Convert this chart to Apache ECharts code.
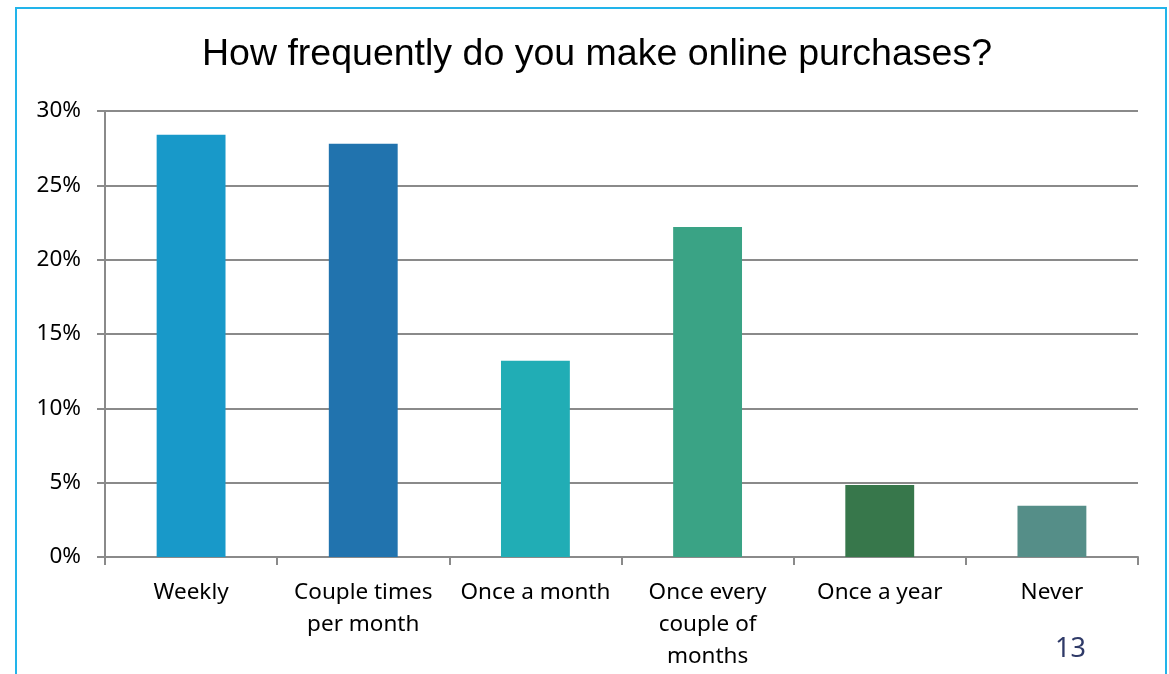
<!DOCTYPE html>
<html>
<head>
<meta charset="utf-8">
<script src="https://cdn.jsdelivr.net/npm/echarts@6/dist/echarts.min.js"></script>
<style>
html,body{margin:0;padding:0;background:#fff;}
#chart{width:1169px;height:674px;}
</style>
</head>
<body>
<div id="chart"></div>
<script>
const titleText = "How frequently do you make online purchases?";
const categories = ["Weekly", "Couple times\nper month", "Once a month", "Once every\ncouple of\nmonths", "Once a year", "Never"];
const values = [28.4, 27.8, 13.2, 22.2, 4.85, 3.45];
const barColors = ["#1899C9", "#2173AE", "#21ADB5", "#3AA385", "#37774B", "#558E88"];
const yTicks = [0, 5, 10, 15, 20, 25, 30];
const pageNumber = "13";

const chart = echarts.init(document.getElementById('chart'), null, {renderer: 'canvas'});
const axisGray = '#8A8A8A';
const labelFont = '"Noto Sans", sans-serif';
chart.setOption({
  animation: false,
  backgroundColor: '#fff',
  title: {
    text: titleText,
    left: 197,
    top: 31,
    textStyle: {fontFamily: '"Liberation Sans", Arial, sans-serif', fontSize: 37.5, fontWeight: 'normal', color: '#000'}
  },
  grid: {left: 105, right: 31, top: 111, bottom: 117},
  xAxis: {
    type: 'category',
    data: categories,
    axisLine: {lineStyle: {color: axisGray, width: 2}},
    axisTick: {show: true, length: 8, lineStyle: {color: axisGray, width: 2}},
    axisLabel: {margin: 20, fontFamily: labelFont, fontSize: 22.5, color: '#000', lineHeight: 32, interval: 0}
  },
  yAxis: {
    type: 'value',
    min: yTicks[0],
    max: yTicks[yTicks.length - 1],
    interval: yTicks[1] - yTicks[0],
    axisLine: {show: true, lineStyle: {color: axisGray, width: 2}},
    axisTick: {show: true, length: 8, lineStyle: {color: axisGray, width: 2}},
    splitLine: {lineStyle: {color: axisGray, width: 2}},
    axisLabel: {formatter: '{value}%', margin: 24, fontFamily: labelFont, fontSize: 22.5, color: '#000'}
  },
  series: [{
    type: 'bar',
    barWidth: '40%',
    data: values.map((v, i) => ({value: v, itemStyle: {color: barColors[i]}}))
  }],
  graphic: [
    {type: 'rect', shape: {x: 16, y: 8, width: 1150, height: 720}, style: {fill: 'none', stroke: '#22B4EA', lineWidth: 2}, z: 100},
    {type: 'text', left: 1055, top: 636, style: {text: pageNumber, fontFamily: labelFont, fontSize: 27, fill: '#2F3A68'}}
  ]
});
</script>
</body>
</html>
